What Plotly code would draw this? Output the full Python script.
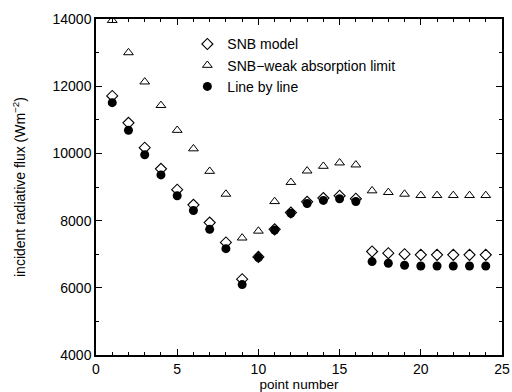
import plotly.graph_objects as go

# Point indices along the path
points = list(range(1, 25))

# Incident radiative flux (W m^-2)
snb_model = [11710, 10910, 10170, 9540, 8920, 8470, 7940, 7350, 6255, 6920,
             7740, 8240, 8560, 8670, 8740, 8650, 7080, 7030, 7000, 6980,
             6980, 6980, 6980, 6980]
snb_weak = [13960, 13000, 12130, 11430, 10690, 10140, 9470, 8790, 7485, 7690,
            8570, 9140, 9480, 9620, 9720, 9660, 8890, 8840, 8790, 8750,
            8750, 8750, 8750, 8750]
line_by_line = [11510, 10690, 9960, 9360, 8740, 8300, 7740, 7165, 6095, 6900,
                7720, 8220, 8510, 8600, 8650, 8570, 6780, 6730, 6670, 6650,
                6650, 6650, 6650, 6650]

font_family = "Liberation Sans, Arial, Helvetica, sans-serif"

fig = go.Figure()
fig.add_trace(go.Scatter(
    x=points, y=snb_model, mode="markers", name="SNB model",
    marker=dict(symbol="diamond-open", size=8.5, color="black",
                line=dict(width=1.1, color="black"))))
fig.add_trace(go.Scatter(
    x=points, y=snb_weak, mode="markers", name="SNB\u2212weak absorption limit",
    marker=dict(symbol="triangle-up-open", size=8.5, color="black",
                line=dict(width=1, color="black"))))
fig.add_trace(go.Scatter(
    x=points, y=line_by_line, mode="markers", name="Line by line",
    marker=dict(symbol="circle", size=9, color="black",
                line=dict(width=0))))

axis_common = dict(
    showgrid=False, zeroline=False, showline=True, linecolor="black",
    linewidth=1.5, mirror="ticks", ticks="inside", ticklen=6,
    tickcolor="black", tickwidth=1.2, tickformat="d", automargin=False,
    tickfont=dict(family=font_family, size=14, color="black"),
)

fig.update_layout(
    width=512, height=392,
    margin=dict(l=96, r=10, t=19, b=37),
    paper_bgcolor="white", plot_bgcolor="white",
    font=dict(family=font_family, color="black"),
    showlegend=True,
    legend=dict(x=0.225, y=0.972, xanchor="left", yanchor="top",
                bgcolor="rgba(0,0,0,0)", borderwidth=0,
                font=dict(family=font_family, size=14, color="black"),
                itemwidth=30, tracegroupgap=0),
    xaxis=dict(range=[0, 25], dtick=5, tick0=0,
               minor=dict(dtick=1, ticks="inside", ticklen=3,
                          tickcolor="black", tickwidth=1),
               title=dict(text="point number", standoff=4,
                          font=dict(family=font_family, size=13.5)),
               **axis_common),
    yaxis=dict(range=[4000, 14000], dtick=2000, tick0=4000,
               minor=dict(dtick=1000, ticks="inside", ticklen=3,
                          tickcolor="black", tickwidth=1),
               title=dict(text="incident radiative flux (Wm<sup>\u22122</sup>)",
                          standoff=24,
                          font=dict(family=font_family, size=14)),
               **axis_common),
)

fig.write_html("out.html")
